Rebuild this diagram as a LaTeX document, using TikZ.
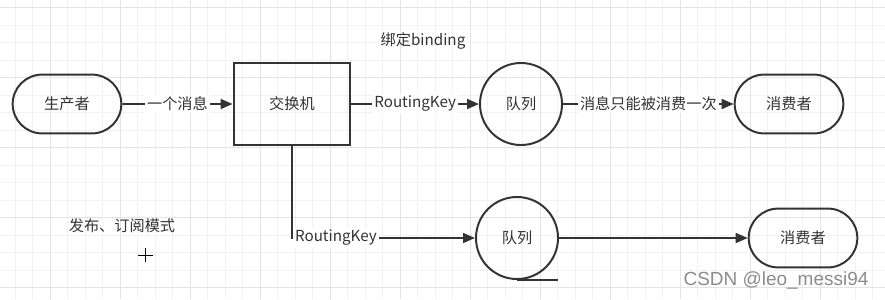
\documentclass[tikz,border=0pt]{standalone}
\usepackage{fontspec}
\setmainfont{Noto Sans CJK SC}
\newfontfamily\markfont{Liberation Sans}
\usetikzlibrary{arrows.meta,shapes.misc}
\definecolor{ink}{HTML}{333333}
\definecolor{gridminor}{HTML}{F2F2F2}
\definecolor{gridmajor}{HTML}{E4E4E4}
\definecolor{markgray}{HTML}{8C8C8C}
\tikzset{
  lbl/.style={text=ink,font=\fontsize{10.8}{13}\selectfont},
  actor/.style={lbl,draw=ink,line width=1.4pt,rounded rectangle,minimum width=2.95cm,minimum height=1.47cm},
  switchbox/.style={lbl,draw=ink,line width=1.4pt,rectangle,minimum width=2.92cm,minimum height=2.05cm},
  queue/.style={lbl,draw=ink,line width=1.4pt,circle,minimum size=2.05cm},
  flow/.style={draw=ink,line width=1.4pt,-{Triangle[length=8.5pt,width=7pt]}},
  tag/.style={lbl,fill=white,inner sep=1.5pt}
}
\begin{document}
\begin{tikzpicture}[x=0.025cm,y=-0.025cm]
\useasboundingbox (0,0) rectangle (885,299);
\fill[white] (0,0) rectangle (885,299);

% grid
\foreach \k in {0,...,50} \draw[gridminor,line width=0.5pt] (15+17.5*\k,0) -- (15+17.5*\k,299);
\foreach \k in {0,...,16} \draw[gridminor,line width=0.5pt] (0,7.5+17.5*\k) -- (885,7.5+17.5*\k);
\foreach \k in {0,...,12} \draw[gridmajor,line width=0.5pt] (50+70*\k,0) -- (50+70*\k,299);
\foreach \k in {0,...,4} \draw[gridmajor,line width=0.5pt] (0,7.5+70*\k) -- (885,7.5+70*\k);

\node[actor] (producer) at (67,104) {生产者};
\node[switchbox] (exchange) at (292,104) {交换机};
\node[queue] (queueA) at (521,104) {队列};
\node[actor] (consumerA) at (789,104) {消费者};
\node[queue] (queueB) at (517,238) {队列};
\node[actor] (consumerB) at (803,238) {消费者};

\draw[flow] (producer) -- node[tag] {一个消息} (exchange);
\draw[flow] (exchange) -- node[tag] {RoutingKey} (queueA);
\draw[flow] (queueA) -- node[tag] {消息只能被消费一次} (consumerA);
\draw[flow] (exchange.south) |- node[tag,pos=0.5,anchor=west] {RoutingKey} (queueB);
\draw[flow] (queueB) -- (consumerB);
\draw[draw=ink,line width=1.4pt] (queueB.south) -- ++(41,0);

\node[lbl] (binding) at (423,41) {绑定binding};
\node[lbl] (mode) at (122,226) {发布、订阅模式};
\draw[black,line width=0.7pt] (138,255) -- (153,255) (145.5,248) -- (145.5,262);

\node[text=markgray,font=\markfont\fontsize{13.5}{15}\selectfont] (mark) at (776,280) {CSDN @leo\_messi94};
\end{tikzpicture}
\end{document}
